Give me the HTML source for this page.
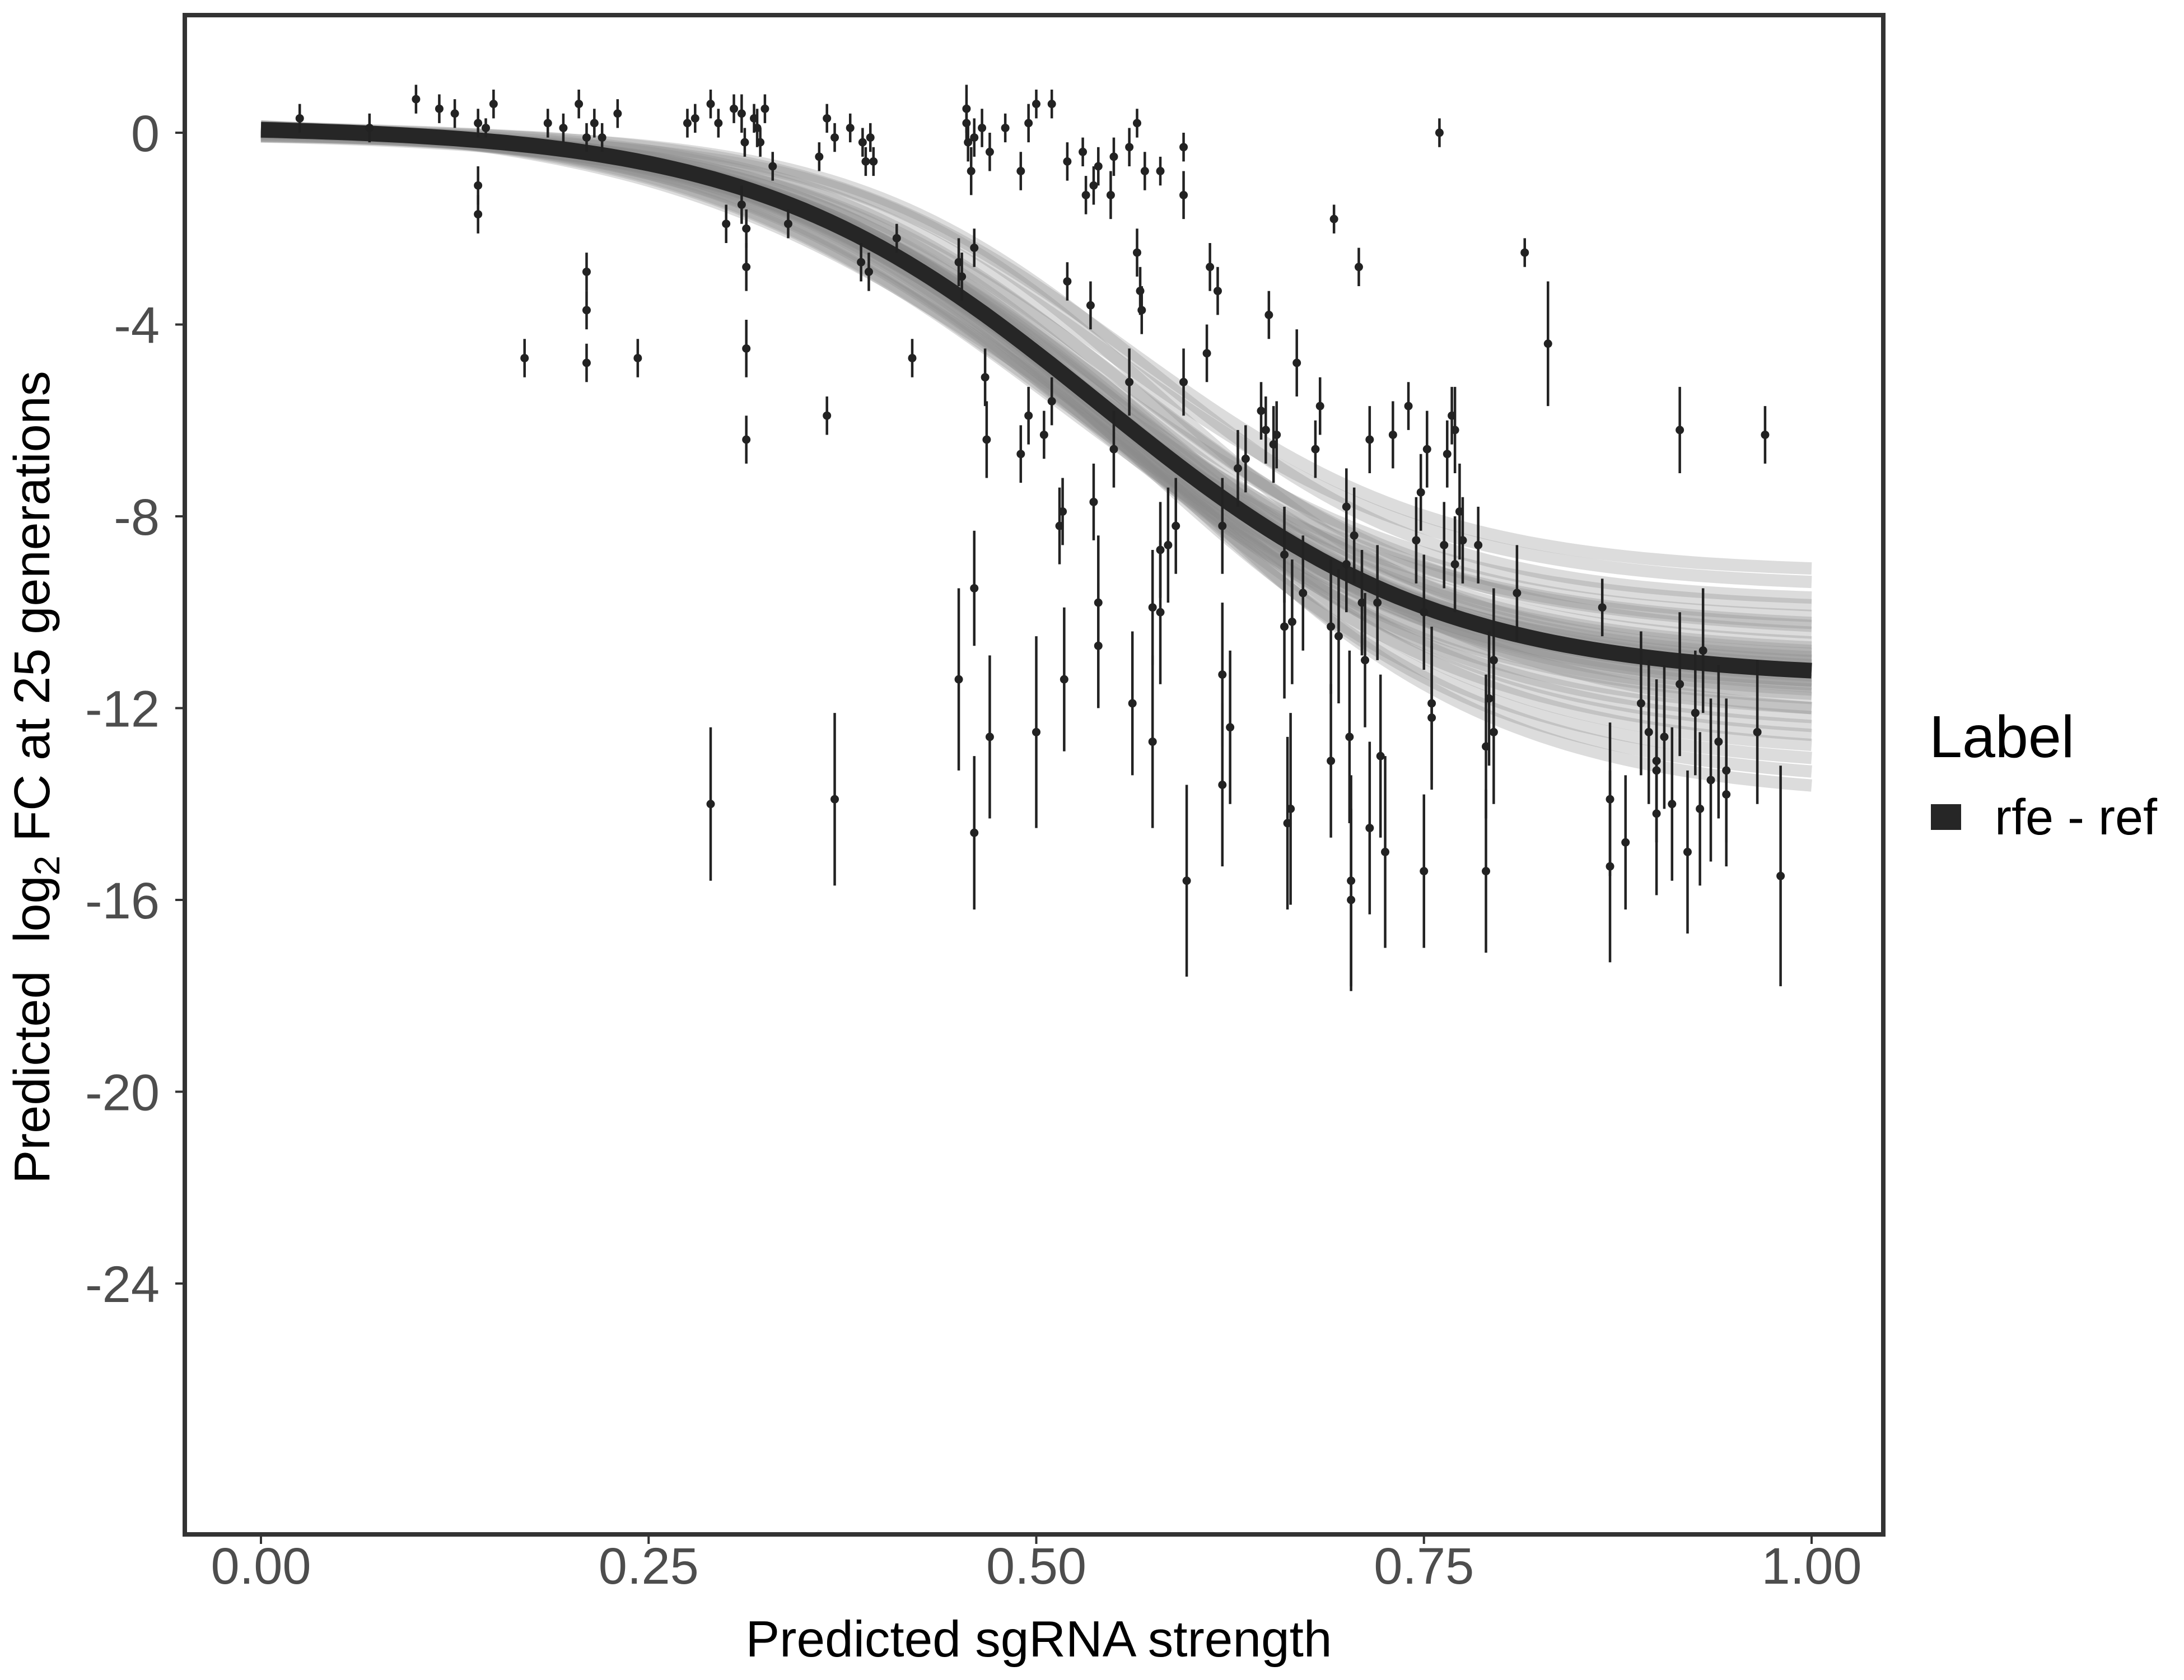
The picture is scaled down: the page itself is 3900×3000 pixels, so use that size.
<!DOCTYPE html>
<html><head><meta charset="utf-8"><style>
html,body{margin:0;padding:0;background:#fff;}
svg{display:block;font-family:"Liberation Sans",sans-serif;}
</style></head><body>
<svg id="chart" width="3900" height="3000" viewBox="0 0 3900 3000" xmlns="http://www.w3.org/2000/svg">
<g id="band"></g>
<g id="mainline"></g>
<g id="points"></g>
<rect x="330" y="27" width="3033" height="2713" fill="none" stroke="#333" stroke-width="8"/>
<g id="xaxis"></g>
<g id="yaxis"></g>
<text x="1855" y="2958" font-size="91" text-anchor="middle" fill="#000">Predicted sgRNA strength</text>
<text transform="translate(88,1388) rotate(-90)" font-size="90" text-anchor="middle" fill="#000" xml:space="preserve">Predicted  log<tspan font-size="64" dy="18">2</tspan><tspan dy="-18"> FC at 25 generations</tspan></text>
<g>
<text x="3445" y="1352" font-size="106" fill="#000">Label</text>
<rect x="3448" y="1436" width="54" height="46" fill="#262626"/>
<text x="3562" y="1490" font-size="90" fill="#000">rfe - ref</text>
</g>
</svg>
<script>
const xTicks=[0,0.25,0.5,0.75,1.0];
const xTickLabels=["0.00","0.25","0.50","0.75","1.00"];
const yTicks=[0,-4,-8,-12,-16,-20,-24];
const yTickLabels=["0","-4","-8","-12","-16","-20","-24"];
// fit curve parameters (top asymptote, bottom asymptote, midpoint, slope)
const fitTop=0.15, fitBottom=-11.4, fitMid=0.54, fitSlope=9;
// posterior curves parameters
const bandBottom=[-9.2,-9.5,-9.8,-10.0,-10.2,-10.4,-10.6,-10.8,-11.0,-11.1,-11.2,-11.3,-11.4,-11.5,-11.6,-11.7,-11.8,-12.0,-12.2,-12.4,-12.6,-12.8,-13.0,-13.3,-13.6,-13.9,-10.5,-11.0,-11.8,-12.3,-11.3,-11.5,-11.2,-11.6,-10.9,-11.9];
const bandMid=[0.56,0.55,0.57,0.53,0.55,0.52,0.56,0.54,0.53,0.55,0.51,0.54,0.56,0.52,0.54,0.53,0.55,0.53,0.54,0.55,0.56,0.55,0.57,0.56,0.57,0.58,0.50,0.58,0.52,0.57,0.54,0.55,0.53,0.54,0.55,0.53];
const bandSlope=[10,9.5,10.5,9,9.8,8.5,9.3,9,8.6,9.4,8.2,8.8,9.6,8.4,9.1,8.7,9.2,8.6,8.9,9,9.1,8.8,9.3,8.9,9,9.2,7.8,10.5,8.0,8.6,9,9.2,8.8,9.1,9.3,8.7];
const bandTop=[0.1,0.15,0.05,0.2,0.1,0.25,0.05,0.15,0.2,0.1,0.3,0.15,0.05,0.25,0.1,0.2,0.1,0.15,0.1,0.05,0.1,0.15,0.0,0.05,0.0,0.0,0.35,-0.05,0.3,0.1,0.15,0.1,0.2,0.1,0.1,0.15];
// data points
const ptX=[0.025,0.07,0.1,0.115,0.125,0.14,0.145,0.15,0.14,0.14,0.17,0.185,0.195,0.205,0.21,0.215,0.22,0.23,0.21,0.21,0.21,0.243,
0.275,0.28,0.29,0.295,0.305,0.31,0.312,0.318,0.32,0.325,0.322,0.33,0.3,0.31,0.313,0.313,0.313,0.313,0.29,0.34,0.36,0.365,0.37,0.38,0.388,0.39,0.393,0.395,0.387,0.392,0.365,0.37,0.41,0.42,
0.455,0.455,0.456,0.458,0.46,0.465,0.47,0.48,0.49,0.495,0.5,0.51,0.52,0.53,0.532,0.537,0.54,0.548,0.55,0.56,0.565,0.57,0.58,0.595,0.595,0.45,0.452,0.46,0.45,0.46,0.46,0.467,0.468,0.47,0.49,0.495,0.5,0.505,0.51,0.515,0.517,0.518,0.52,0.535,0.537,0.54,0.54,0.55,0.56,0.562,0.565,0.567,0.568,0.575,0.58,0.585,0.59,0.595,0.597,0.575,0.58,
0.61,0.612,0.617,0.62,0.62,0.62,0.625,0.63,0.635,0.645,0.648,0.65,0.653,0.655,0.66,0.66,0.662,0.664,0.665,0.668,0.672,0.68,0.683,0.69,0.69,0.692,0.695,0.7,0.7,0.702,0.703,0.703,0.705,0.708,0.71,0.712,0.715,0.715,0.72,0.722,0.725,0.73,0.74,0.745,0.748,0.75,0.75,0.752,0.755,0.755,0.76,0.763,0.765,0.768,0.77,0.77,0.773,0.775,0.785,0.79,0.79,0.792,0.795,0.795,0.81,0.815,0.83,
0.865,0.87,0.87,0.88,0.89,0.895,0.9,0.9,0.9,0.905,0.91,0.915,0.915,0.92,0.925,0.928,0.93,0.935,0.94,0.945,0.945,0.965,0.97,0.98];
const ptY=[0.3,0.1,0.7,0.5,0.4,0.2,0.1,0.6,-1.1,-1.7,-4.7,0.2,0.1,0.6,-0.1,0.2,-0.1,0.4,-2.9,-3.7,-4.8,-4.7,
0.2,0.3,0.6,0.2,0.5,0.4,-0.2,0.3,0.1,0.5,-0.2,-0.7,-1.9,-1.5,-2.0,-2.8,-4.5,-6.4,-14.0,-1.9,-0.5,0.3,-0.1,0.1,-0.2,-0.6,-0.1,-0.6,-2.7,-2.9,-5.9,-13.9,-2.2,-4.7,
0.5,0.2,-0.2,-0.8,-0.1,0.1,-0.4,0.1,-0.8,0.2,0.6,0.6,-0.6,-0.4,-1.3,-1.1,-0.7,-1.3,-0.5,-0.3,0.2,-0.8,-0.8,-0.3,-1.3,-2.7,-3.0,-2.4,-11.4,-9.5,-14.6,-5.1,-6.4,-12.6,-6.7,-5.9,-12.5,-6.3,-5.6,-8.2,-7.9,-11.4,-3.1,-3.6,-7.7,-9.8,-10.7,-6.6,-5.2,-11.9,-2.5,-3.3,-3.7,-9.9,-8.7,-8.6,-8.2,-5.2,-15.6,-12.7,-10.0,
-4.6,-2.8,-3.3,-8.2,-11.3,-13.6,-12.4,-7.0,-6.8,-5.8,-6.2,-3.8,-6.5,-6.3,-8.8,-10.3,-14.4,-14.1,-10.2,-4.8,-9.6,-6.6,-5.7,-10.3,-13.1,-1.8,-10.5,-7.8,-9.0,-12.6,-15.6,-16.0,-8.4,-2.8,-9.8,-11.0,-6.4,-14.5,-9.8,-13.0,-15.0,-6.3,-5.7,-8.5,-7.5,-10.0,-15.4,-6.6,-11.9,-12.2,0.0,-8.6,-6.7,-5.9,-6.2,-9.0,-7.9,-8.5,-8.6,-12.8,-15.4,-11.8,-12.5,-11.0,-9.6,-2.5,-4.4,
-9.9,-13.9,-15.3,-14.8,-11.9,-12.5,-13.3,-13.1,-14.2,-12.6,-14.0,-6.2,-11.5,-15.0,-12.1,-14.1,-10.8,-13.5,-12.7,-13.3,-13.8,-12.5,-6.3,-15.5];
const ptErr=[0.3,0.3,0.3,0.3,0.3,0.3,0.2,0.3,0.4,0.4,0.4,0.3,0.3,0.3,0.3,0.3,0.3,0.3,0.4,0.4,0.4,0.4,
0.3,0.3,0.3,0.3,0.3,0.4,0.3,0.3,0.4,0.3,0.3,0.3,0.4,0.4,0.4,0.5,0.6,0.5,1.6,0.3,0.3,0.3,0.3,0.3,0.3,0.3,0.3,0.3,0.4,0.4,0.4,1.8,0.3,0.4,
0.5,0.4,0.4,0.5,0.4,0.4,0.4,0.3,0.4,0.4,0.3,0.3,0.4,0.3,0.4,0.4,0.4,0.5,0.4,0.4,0.3,0.4,0.3,0.3,0.5,0.5,0.5,0.4,1.9,1.2,1.6,0.6,0.8,1.7,0.6,0.6,2.0,0.5,0.5,0.8,0.7,1.5,0.4,0.5,0.8,1.4,1.3,0.8,0.7,1.5,0.5,0.5,0.5,1.2,1.0,1.2,1.0,0.7,2.0,1.8,1.5,
0.6,0.5,0.5,1.0,1.5,1.7,1.6,0.8,0.7,0.6,0.7,0.5,0.8,0.7,1.0,1.5,1.8,2.0,1.3,0.7,1.2,0.6,0.6,1.4,1.6,0.3,1.4,0.8,1.0,1.8,2.2,1.9,1.0,0.4,1.1,1.4,0.7,1.8,1.2,1.7,2.0,0.7,0.5,0.9,0.8,1.2,1.6,0.8,1.6,1.5,0.3,0.9,0.7,0.6,0.9,1.0,1.0,0.9,0.8,1.5,1.7,1.4,1.5,1.5,1.0,0.3,1.3,
0.6,1.6,2.0,1.4,1.5,1.5,1.5,1.7,1.7,1.5,1.6,0.9,1.5,1.7,1.3,1.6,1.3,1.7,1.6,1.5,1.5,1.5,0.6,2.3];

const NS="http://www.w3.org/2000/svg";
const X0=466,X1=3235,Y0=237,PER4=342.5;
function sx(v){return X0+(X1-X0)*v;}
function sy(v){return Y0-v/4*PER4;}
function mk(tag,attrs,parent){const e=document.createElementNS(NS,tag);for(const k in attrs)e.setAttribute(k,attrs[k]);parent.appendChild(e);return e;}
function logi(x,t,b,m,k){return t+(b-t)/(1+Math.exp(-k*(x-m)));}
function curvePath(t,b,m,k){let d="";for(let i=0;i<=120;i++){const x=i/120;d+=(i?"L":"M")+sx(x).toFixed(1)+","+sy(logi(x,t,b,m,k)).toFixed(1);}return d;}

const band=document.getElementById('band');
for(let i=0;i<bandBottom.length;i++){
  const p=mk('path',{d:curvePath(bandTop[i],bandBottom[i],bandMid[i],bandSlope[i]),fill:'none',stroke:'#8a8a8a','stroke-opacity':'0.3','stroke-width':'22'},band);
  
  
}
const ml=document.getElementById('mainline');
const mp=mk('path',{d:curvePath(fitTop,fitBottom,fitMid,fitSlope),fill:'none',stroke:'#262626','stroke-width':'28'},ml);



const pts=document.getElementById('points');
for(let i=0;i<ptX.length;i++){
  const g=mk('g',{},pts);
  
  
  mk('line',{x1:sx(ptX[i]),x2:sx(ptX[i]),y1:sy(ptY[i]+ptErr[i]),y2:sy(ptY[i]-ptErr[i]),stroke:'#222','stroke-width':'4.5'},g);
  mk('circle',{cx:sx(ptX[i]),cy:sy(ptY[i]),r:'7.5',fill:'#222'},g);
}
const xa=document.getElementById('xaxis');
xTicks.forEach((v,i)=>{
  const l=mk('line',{x1:sx(v),x2:sx(v),y1:2744,y2:2757,stroke:'#333','stroke-width':'4'},xa);
  
  
  const t=mk('text',{x:sx(v),y:2828,'font-size':'92','text-anchor':'middle',fill:'#4d4d4d'},xa);
  
  
  t.textContent=xTickLabels[i];
});
const ya=document.getElementById('yaxis');
yTicks.forEach((v,i)=>{
  const l=mk('line',{x1:313,x2:326,y1:sy(v),y2:sy(v),stroke:'#333','stroke-width':'4'},ya);
  
  
  const t=mk('text',{x:285,y:sy(v)+33,'font-size':'92','text-anchor':'end',fill:'#4d4d4d'},ya);
  
  
  t.textContent=yTickLabels[i];
});
</script>
</body></html>
